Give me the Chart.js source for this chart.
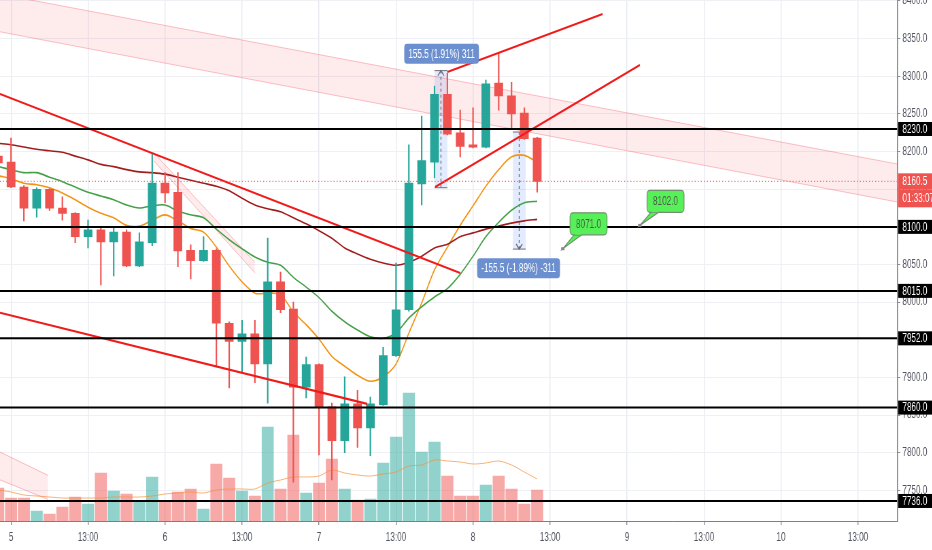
<!DOCTYPE html>
<html>
<head>
<meta charset="utf-8">
<script src="https://cdn.jsdelivr.net/npm/chart.js@4.4.1/dist/chart.umd.min.js"></script>
<style>
  html, body { margin: 0; padding: 0; background: #ffffff; overflow: hidden; }
  #wrap { width: 932px; height: 550px; overflow: hidden; }
  /* the snapshot is horizontally squeezed, so draw wide and squeeze */
  #inner { width: 1371px; height: 550px; transform: scaleX(0.68); transform-origin: 0 0; }
</style>
</head>
<body>
<div id="wrap"><div id="inner"><canvas id="chart" width="1371" height="550"></canvas></div></div>
<script>
// 2h bars, first one (index -1) is cut by the left edge
const firstBar = -1
const opens  = [8194, 8186, 8153, 8125, 8150, 8125, 8118, 8087, 8096, 8080, 8093, 8048, 8079, 8158, 8146, 8069, 8055, 8069, 7972, 7948, 7958, 7918, 8027, 7991, 7887, 7917, 7861, 7816, 7865, 7833, 7864, 7929, 7990, 8157, 8186, 8276, 8225, 8209, 8206, 8291, 8274, 8251, 8218]
const highs  = [8202, 8218, 8155, 8152, 8151, 8140, 8119, 8109, 8098, 8100, 8096, 8092, 8198, 8172, 8172, 8076, 8087, 8071, 7974, 7976, 7976, 8085, 8040, 8000, 7927, 7918, 7866, 7901, 7883, 7874, 7940, 8052, 8209, 8247, 8287, 8304, 8255, 8258, 8295, 8331, 8292, 8258, 8219]
const lows   = [8180, 8152, 8108, 8113, 8122, 8109, 8079, 8072, 8023, 8035, 8047, 8047, 8075, 8132, 8047, 8031, 8054, 7914, 7886, 7906, 7893, 7866, 7986, 7761, 7873, 7797, 7764, 7800, 7807, 7796, 7863, 7928, 7988, 8129, 8165, 8222, 8193, 8205, 8205, 8255, 8229, 8216, 8146]
const closes = [8185, 8153, 8125, 8150, 8125, 8118, 8087, 8096, 8080, 8093, 8048, 8080, 8158, 8145, 8068, 8055, 8069, 7972, 7948, 7958, 7918, 8027, 7990, 7887, 7917, 7861, 7816, 7865, 7833, 7865, 7929, 7990, 8158, 8188, 8276, 8223, 8207, 8206, 8290, 8274, 8250, 8217, 8160.5]
const volumes   = [33, 23, 23, 10, 7, 14, 24, 17, 48, 30, 27, 19, 44, 19, 29, 32, 12, 57, 43, 30, 25, 94, 32, 86, 28, 38, 62, 32, 21, 22, 58, 84, 128, 69, 79, 45, 25, 25, 36, 45, 32, 17, 31]
const volumeAvg = [31, 29, 26, 25, 24, 23, 23, 23, 23, 24, 24, 24, 25, 27, 28, 29, 28, 31, 32, 32, 32, 38, 41, 44, 44, 45, 51, 48, 46, 45, 47, 49, 55, 56, 61, 60, 59, 57, 58, 60, 56, 49, 42]
const maFast = [8168, 8164, 8158, 8156, 8152, 8145, 8136, 8126, 8118, 8112, 8102, 8101, 8109, 8116, 8108, 8098, 8093, 8073, 8048, 8027, 8012, 8012, 8010, 7987, 7970, 7951, 7928, 7915, 7903, 7895, 7901, 7918, 7959, 7999, 8043, 8073, 8102, 8128, 8154, 8176, 8193, 8195, 8186]
const maMid  = [8180, 8176, 8172, 8172, 8166, 8160, 8153, 8146, 8141, 8136, 8129, 8125, 8128, 8129, 8121, 8116, 8112, 8097, 8083, 8071, 8060, 8053, 8049, 8033, 8020, 8006, 7988, 7974, 7963, 7954, 7952, 7959, 7979, 7994, 8007, 8018, 8037, 8061, 8087, 8106, 8122, 8132, 8134]
const maSlow = [8211, 8209, 8206, 8203, 8201, 8199, 8194, 8189, 8183, 8180, 8176, 8173, 8172, 8170, 8166, 8162, 8158, 8154, 8148, 8138, 8129, 8124, 8120, 8112, 8104, 8095, 8085, 8072, 8064, 8057, 8052, 8049, 8053, 8061, 8072, 8077, 8087, 8092, 8097, 8101, 8105, 8108, 8110]

const xTickPos = [0, 6, 12, 18, 24, 30, 36, 42, 48, 54, 60, 66]
const xTickLabels = ['5', '13:00', '6', '13:00', '7', '13:00', '8', '13:00', '9', '13:00', '10', '13:00']
const priceTicks = [7750, 7800, 7850, 7900, 7950, 8000, 8050, 8100, 8150, 8200, 8250, 8300, 8350, 8400]

const levels = [8230, 8100, 8015, 7952, 7860, 7736]
const lastPrice = 8160.5
const countdown = '01:33:07'

// drawings (bar index, price)
const trendFrom = [[-0.86, 8276.5], [-0.86, 7986], [33.05, 8153], [34.0, 8305.7]]
const trendTo   = [[35.0, 8038.8], [27.75, 7865], [49.0, 8315], [46.1, 8382.7]]
const bandX     = [[-0.86, 69.06], [11.1, 19.0], [-0.86, 2.88]]
const bandUpper = [[8409, 8183.5], [8199, 8053], [7801, 7770]]
const bandLower = [[8359, 8133], [8188, 8039], [7764, 7738]]

const measureStart = [33.0, 39.1]
const measureEnd   = [34.0, 40.1]
const measureFrom  = [8152, 8226]
const measureTo    = [8307.5, 8070.5]
const measureText  = ['155.5 (1.91%) 311', '-155.5 (-1.89%) -311']
const measureLabelAt = [[33.55, 8330], [39.55, 8045]]

const noteText  = ['8071.0', '8102.0']
const noteTip   = [[43.0, 8071], [49.0, 8102]]
const noteBoxAt = [[45.0, 8104], [51.0, 8134]]

const X_MIN = -0.86, X_MAX = 69.06
const Y_MIN = 7709.4, Y_MAX = 8401.3
const SQ = 0.68 // horizontal squeeze of the canvas
const UP = '#26a69a', DOWN = '#ef5350'
const FONT = '"Liberation Sans", Arial, sans-serif'

const barIndex = opens.map((_, i) => firstBar + i)
const isUp = closes.map((c, i) => c >= opens[i])
const pts = (ys) => barIndex.map((x, i) => ({ x: x, y: ys[i] }))

let datasets = []

// pink channels
bandX.forEach((bx, i) => {
  datasets.push({
    type: 'line', order: 30,
    data: [{ x: bx[0], y: bandUpper[i][0] }, { x: bx[1], y: bandUpper[i][1] }],
    borderColor: 'rgba(242, 54, 69, 0.3)', borderWidth: 1, pointRadius: 0,
    fill: '+1', backgroundColor: 'rgba(242, 54, 69, 0.1)', clip: 0
  })
  datasets.push({
    type: 'line', order: 30,
    data: [{ x: bx[0], y: bandLower[i][0] }, { x: bx[1], y: bandLower[i][1] }],
    borderColor: 'rgba(242, 54, 69, 0.3)', borderWidth: 1, pointRadius: 0,
    fill: false, clip: 0
  })
})

// volume
datasets.push({
  type: 'bar', order: 20, yAxisID: 'yv', grouped: false,
  data: pts(volumes), barThickness: 17,
  backgroundColor: isUp.map(u => u ? 'rgba(38, 166, 154, 0.5)' : 'rgba(239, 83, 80, 0.5)')
})
datasets.push({
  type: 'line', order: 19, yAxisID: 'yv',
  data: pts(volumeAvg), borderColor: 'rgba(245, 145, 60, 0.7)', borderWidth: 1,
  pointRadius: 0, tension: 0.3, clip: 0
})

// moving averages
datasets.push({ type: 'line', order: 8, data: pts(maSlow), borderColor: '#a11d1d', borderWidth: 1.6, pointRadius: 0, tension: 0.3, clip: 0 })
datasets.push({ type: 'line', order: 8, data: pts(maMid), borderColor: '#43a047', borderWidth: 1.6, pointRadius: 0, tension: 0.3, clip: 0 })
datasets.push({ type: 'line', order: 8, data: pts(maFast), borderColor: '#f39314', borderWidth: 1.6, pointRadius: 0, tension: 0.3, clip: 0 })

// candles: wicks then bodies
datasets.push({
  type: 'bar', order: 6, grouped: false, barThickness: 1.5,
  data: barIndex.map((x, i) => ({ x: x, y: [lows[i], highs[i]] })),
  backgroundColor: isUp.map(u => u ? UP : DOWN)
})
datasets.push({
  type: 'bar', order: 5, grouped: false, barThickness: 12.2, minBarLength: 1,
  data: barIndex.map((x, i) => ({ x: x, y: [opens[i], closes[i]] })),
  backgroundColor: isUp.map(u => u ? UP : DOWN)
})

// trend lines
trendFrom.forEach((p, i) => {
  datasets.push({
    type: 'line', order: 2,
    data: [{ x: p[0], y: p[1] }, { x: trendTo[i][0], y: trendTo[i][1] }],
    borderColor: '#f01a1a', borderWidth: 2.2, pointRadius: 0, clip: 0
  })
})

// horizontal levels
levels.forEach(lv => {
  datasets.push({
    type: 'line', order: 1,
    data: [{ x: X_MIN, y: lv }, { x: X_MAX, y: lv }],
    borderColor: '#000000', borderWidth: 2, pointRadius: 0, clip: 0
  })
})
datasets.push({
  type: 'line', order: 1,
  data: [{ x: X_MIN, y: lastPrice }, { x: X_MAX, y: lastPrice }],
  borderColor: '#ef5350', borderWidth: 1, borderDash: [1.5, 3], pointRadius: 0, clip: 0
})

const roundRect = (ctx, x, y, w, h, r) => {
  ctx.beginPath()
  ctx.moveTo(x + r, y)
  ctx.arcTo(x + w, y, x + w, y + h, r)
  ctx.arcTo(x + w, y + h, x, y + h, r)
  ctx.arcTo(x, y + h, x, y, r)
  ctx.arcTo(x, y, x + w, y, r)
  ctx.closePath()
}

const drawings = {
  id: 'drawings',
  beforeDatasetsDraw(chart) {
    const { ctx, scales: { x, y } } = chart
    ctx.save()
    measureStart.forEach((k0, i) => {
      const x0 = x.getPixelForValue(k0), x1 = x.getPixelForValue(measureEnd[i])
      const y0 = y.getPixelForValue(measureFrom[i]), y1 = y.getPixelForValue(measureTo[i])
      ctx.fillStyle = 'rgba(41, 98, 255, 0.13)'
      ctx.fillRect(x0, Math.min(y0, y1), x1 - x0, Math.abs(y1 - y0))
      ctx.strokeStyle = '#6b6e78'
      ctx.lineWidth = 1
      ctx.beginPath()
      ctx.moveTo(x0, y0); ctx.lineTo(x1, y0)
      ctx.moveTo(x0, y1); ctx.lineTo(x1, y1)
      ctx.stroke()
      const xm = (x0 + x1) / 2
      ctx.lineWidth = 1.4
      ctx.setLineDash([3, 3])
      ctx.beginPath(); ctx.moveTo(xm, y0); ctx.lineTo(xm, y1); ctx.stroke()
      ctx.setLineDash([])
      const dir = y1 < y0 ? 1 : -1
      ctx.beginPath()
      ctx.moveTo(xm - 4.5, y1 + dir * 5); ctx.lineTo(xm, y1); ctx.lineTo(xm + 4.5, y1 + dir * 5)
      ctx.stroke()
    })
    ctx.restore()
  },
  afterDraw(chart) {
    const { ctx, chartArea: area, scales: { x, y } } = chart
    ctx.save()
    ctx.font = '12px ' + FONT
    ctx.textBaseline = 'middle'

    // measure labels
    measureText.forEach((t, i) => {
      const cx = x.getPixelForValue(measureLabelAt[i][0]), cy = y.getPixelForValue(measureLabelAt[i][1])
      const w = ctx.measureText(t).width + 12, h = 20
      roundRect(ctx, cx - w / 2, cy - h / 2, w, h, 4)
      ctx.fillStyle = '#6b8fcf'
      ctx.fill()
      ctx.fillStyle = '#ffffff'
      ctx.textAlign = 'center'
      ctx.fillText(t, cx, cy + 0.5)
    })

    // price notes
    noteText.forEach((t, i) => {
      const tx = x.getPixelForValue(noteTip[i][0]), ty = y.getPixelForValue(noteTip[i][1])
      const cx = x.getPixelForValue(noteBoxAt[i][0]), cy = y.getPixelForValue(noteBoxAt[i][1])
      const w = 37 / SQ, h = 22
      const bx = cx - w / 2, by = cy - h / 2
      ctx.fillStyle = '#58f058'
      ctx.strokeStyle = '#6f8f6f'
      ctx.lineWidth = 1.2
      ctx.beginPath()
      ctx.moveTo(bx + 6, by + h); ctx.lineTo(tx, ty); ctx.lineTo(bx + 17, by + h)
      ctx.closePath()
      ctx.fill(); ctx.stroke()
      roundRect(ctx, bx, by, w, h, 4)
      ctx.fill(); ctx.stroke()
      ctx.beginPath(); ctx.moveTo(bx + 7, by + h - 0.6); ctx.lineTo(bx + 16, by + h - 0.6)
      ctx.strokeStyle = '#58f058'; ctx.stroke()
      ctx.fillStyle = '#888888'
      ctx.fillRect(tx - 2.5, ty - 1.5, 5, 3)
      ctx.fillStyle = '#4d5a4d'
      ctx.textAlign = 'center'
      ctx.fillText(t, cx, cy + 0.5)
    })

    // axis tags
    ctx.textAlign = 'left'
    const tag = (py, h, text, bg) => {
      ctx.fillStyle = bg
      ctx.fillRect(area.right + 1.5, py - h / 2, chart.width - area.right - 1.5, h)
      ctx.fillStyle = '#ffffff'
      ctx.fillText(text, area.right + 7.5, py + 0.5)
    }
    levels.forEach(lv => tag(y.getPixelForValue(lv), 14, lv.toFixed(1), '#000000'))
    const lp = y.getPixelForValue(lastPrice)
    tag(lp, 16, lastPrice.toFixed(1), '#ef5350')
    tag(lp + 17, 18, countdown, '#ef5350')
    ctx.restore()
  }
}

const ctx = document.getElementById('chart').getContext('2d')
const chart = new Chart(ctx, {
  type: 'bar',
  data: { datasets: datasets },
  options: {
    responsive: false,
    animation: false,
    devicePixelRatio: 1,
    layout: { padding: 0 },
    plugins: { legend: { display: false }, tooltip: { enabled: false } },
    scales: {
      x: {
        type: 'linear', min: X_MIN, max: X_MAX, offset: false,
        grid: { color: '#e6e9ef', lineWidth: 1.4, offset: false, tickLength: 4, tickColor: '#8a8d96' },
        border: { color: '#7c7f88' },
        afterBuildTicks: s => { s.ticks = xTickPos.map(v => ({ value: v })) },
        afterFit: s => { s.height = 29; s.paddingLeft = 0; s.paddingRight = 0 },
        ticks: {
          autoSkip: false, maxRotation: 0, padding: 5,
          color: '#50535e', font: { family: FONT, size: 12 },
          callback: (v, i) => xTickLabels[i]
        }
      },
      y: {
        type: 'linear', position: 'right', min: Y_MIN, max: Y_MAX,
        grid: { color: '#eef0f4', tickLength: 4.5, tickColor: '#8a8d96' },
        border: { color: '#7c7f88', width: 1.5 },
        afterBuildTicks: s => { s.ticks = priceTicks.map(v => ({ value: v })) },
        afterFit: s => { s.width = 51.5; s.paddingTop = 0; s.paddingBottom = 0 },
        ticks: {
          padding: 3, color: '#50535e', font: { family: FONT, size: 12 },
          callback: v => Number(v).toFixed(1)
        }
      },
      yv: { display: false, min: 0, max: 521 }
    }
  },
  plugins: [drawings]
})
</script>
</body>
</html>
